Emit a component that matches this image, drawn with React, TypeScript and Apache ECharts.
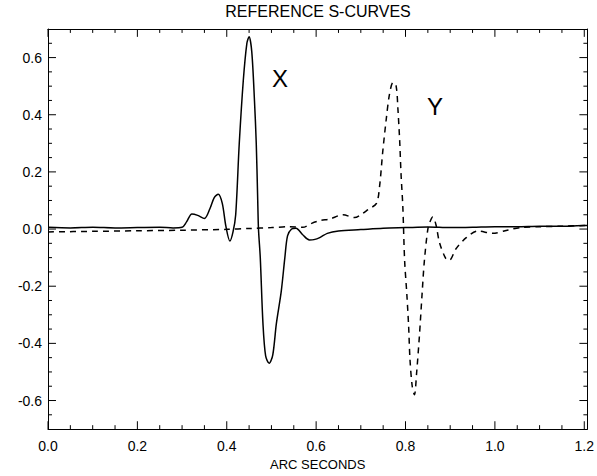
import React, { useEffect, useRef } from "react";
import * as echarts from "echarts";

// Solid curve (X)
const solidArc = [0.0, 0.05, 0.1, 0.15, 0.2, 0.25, 0.28, 0.3, 0.31, 0.322, 0.335, 0.35, 0.362, 0.372, 0.381, 0.39, 0.398, 0.407, 0.414, 0.42, 0.428, 0.437, 0.445, 0.45, 0.456, 0.462, 0.466, 0.469, 0.471, 0.475, 0.481, 0.487, 0.495, 0.503, 0.511, 0.522, 0.53, 0.536, 0.545, 0.555, 0.57, 0.585, 0.595, 0.608, 0.625, 0.65, 0.7, 0.75, 0.8, 0.85, 0.9, 0.95, 1.0, 1.05, 1.1, 1.15, 1.2, 1.207];
const solidVal = [0.006, 0.004, 0.006, 0.004, 0.005, 0.006, 0.004, 0.006, 0.025, 0.053, 0.048, 0.037, 0.07, 0.11, 0.122, 0.09, 0.01, -0.042, -0.01, 0.05, 0.3, 0.52, 0.65, 0.673, 0.62, 0.45, 0.3, 0.12, 0.0, -0.1, -0.33, -0.444, -0.47, -0.44, -0.331, -0.217, -0.1, -0.024, 0.0, 0.003, -0.02, -0.038, -0.037, -0.03, -0.015, -0.007, -0.002, 0.003, 0.005, 0.007, 0.005, 0.006, 0.008, 0.008, 0.01, 0.01, 0.012, 0.012];

// Dashed curve (Y)
const dashedArc = [0.0, 0.1, 0.2, 0.3, 0.4, 0.45, 0.5, 0.54, 0.57, 0.59, 0.61, 0.63, 0.66, 0.686, 0.7, 0.716, 0.735, 0.742, 0.749, 0.757, 0.764, 0.772, 0.779, 0.783, 0.787, 0.79, 0.794, 0.798, 0.803, 0.807, 0.81, 0.815, 0.82, 0.825, 0.831, 0.837, 0.842, 0.85, 0.856, 0.861, 0.868, 0.876, 0.89, 0.898, 0.913, 0.936, 0.962, 0.995, 1.03, 1.06, 1.1, 1.15, 1.2, 1.207];
const dashedVal = [-0.01, -0.008, -0.006, -0.004, -0.001, 0.002, 0.005, 0.008, 0.006, 0.02, 0.03, 0.035, 0.05, 0.04, 0.05, 0.068, 0.09, 0.15, 0.27, 0.386, 0.47, 0.513, 0.5, 0.42, 0.307, 0.192, 0.078, -0.11, -0.229, -0.341, -0.456, -0.55, -0.58, -0.5, -0.376, -0.229, -0.115, 0.0, 0.03, 0.042, 0.016, -0.047, -0.103, -0.109, -0.069, -0.03, -0.007, -0.015, -0.003, 0.006, 0.008, 0.01, 0.012, 0.012];

// Tick positions
const xMajorTicks = [0.0, 0.2, 0.4, 0.6, 0.8, 1.0, 1.2];
const xMinorTicks = [0.05, 0.1, 0.15, 0.25, 0.3, 0.35, 0.45, 0.5, 0.55, 0.65, 0.7, 0.75, 0.85, 0.9, 0.95, 1.05, 1.1, 1.15];
const yMajorTicks = [-0.6, -0.4, -0.2, 0.0, 0.2, 0.4, 0.6];
const yMinorTicks = [-0.65, -0.55, -0.5, -0.45, -0.35, -0.3, -0.25, -0.15, -0.1, -0.05, 0.05, 0.1, 0.15, 0.25, 0.3, 0.35, 0.45, 0.5, 0.55, 0.65];

const titleText = "REFERENCE S-CURVES";
const xAxisName = "ARC SECONDS";
const curveLabels = ["X", "Y"];

const X_MIN = 0;
const X_MAX = 1.207;
const Y_MIN = -0.7;
const Y_MAX = 0.7;

const W = 597;
const H = 476;
const GRID = { left: 48, right: 9, top: 29, bottom: 40 };

const FONT = "'Liberation Sans', Arial, sans-serif";

function zip(a: number[], b: number[]) {
  return a.map((v, i) => [v, b[i]]);
}

export default function App() {
  const ref = useRef<HTMLDivElement>(null);
  useEffect(() => {
    if (!ref.current) return;
    const chart = echarts.init(ref.current, null, { renderer: "svg" });
    const isMult = (v: number, step: number) =>
      Math.abs(v / step - Math.round(v / step)) < 1e-6;
    const fmt = (v: number) => (isMult(v, 0.2) ? (Math.abs(v) < 1e-9 ? "0.0" : v.toFixed(1)) : "");
    const mk = () => ({ color: "#000", width: 1 });

    // data units per pixel, so tick lengths are given in pixels
    const xPerPx = (X_MAX - X_MIN) / (W - GRID.left - GRID.right);
    const yPerPx = (Y_MAX - Y_MIN) / (H - GRID.top - GRID.bottom);

    // tick marks as broken line segments, drawn through the axes' scales
    const tickData = (xVals: number[], yVals: number[], len: number) => {
      const out: any[] = [];
      const dy = len * yPerPx;
      const dx = len * xPerPx;
      xVals.forEach((v) => {
        out.push([v, Y_MIN], [v, Y_MIN + dy], [v, "-"]);
        out.push([v, Y_MAX], [v, Y_MAX - dy], [v, "-"]);
      });
      yVals.forEach((v) => {
        out.push([X_MIN, v], [X_MIN + dx, v], ["-", v]);
        out.push([X_MAX, v], [X_MAX - dx, v], ["-", v]);
      });
      return out;
    };
    const tickSeries = (data: any[]) => ({
      type: "line",
      xAxisIndex: 0,
      yAxisIndex: 0,
      data,
      showSymbol: false,
      symbol: "none",
      connectNulls: false,
      clip: false,
      silent: true,
      z: 5,
      emphasis: { disabled: true },
      lineStyle: { color: "#000", width: 1 },
    });

    const axisX = (pos: string, labels: boolean) => ({
      type: "value",
      min: X_MIN,
      max: X_MAX,
      interval: 0.2,
      position: pos,
      splitLine: { show: false },
      axisLine: { show: true, onZero: false, lineStyle: mk() },
      axisTick: { show: false },
      axisLabel: labels
        ? { show: true, formatter: fmt, color: "#000", fontFamily: FONT, fontSize: 14, margin: 10 }
        : { show: false },
    });
    const axisY = (pos: string, labels: boolean) => ({
      type: "value",
      min: Y_MIN,
      max: Y_MAX,
      splitNumber: 7,
      position: pos,
      splitLine: { show: false },
      axisLine: { show: true, onZero: false, lineStyle: mk() },
      axisTick: { show: false },
      axisLabel: labels
        ? { show: true, formatter: fmt, color: "#000", fontFamily: FONT, fontSize: 14, margin: 6 }
        : { show: false },
    });
    chart.setOption({
      animation: false,
      backgroundColor: "#fff",
      title: {
        text: titleText,
        left: 318,
        textAlign: "center",
        top: 3,
        padding: 0,
        textStyle: { fontFamily: FONT, fontSize: 16, fontWeight: "normal", color: "#000" },
      },
      grid: GRID,
      xAxis: [
        {
          ...axisX("bottom", true),
          name: xAxisName,
          nameLocation: "middle",
          nameGap: 25,
          nameTextStyle: { fontFamily: FONT, fontSize: 13, color: "#000" },
        },
        axisX("top", false),
      ],
      yAxis: [axisY("left", true), axisY("right", false)],
      graphic: [
        { type: "text", left: 272, top: 66, style: { text: curveLabels[0], font: `24px ${FONT}`, fill: "#000" } },
        { type: "text", left: 427, top: 94, style: { text: curveLabels[1], font: `24px ${FONT}`, fill: "#000" } },
      ],
      series: [
        tickSeries(tickData(xMajorTicks, yMajorTicks, 8)),
        tickSeries(tickData(xMinorTicks, yMinorTicks, 4)),
        {
          type: "line",
          xAxisIndex: 0,
          yAxisIndex: 0,
          data: zip(solidArc, solidVal),
          showSymbol: false,
          smooth: 0.3,
          lineStyle: { color: "#000", width: 1.5 },
        },
        {
          type: "line",
          xAxisIndex: 0,
          yAxisIndex: 0,
          data: zip(dashedArc, dashedVal),
          showSymbol: false,
          smooth: 0.3,
          lineStyle: { color: "#000", width: 1.5, type: [6, 5] },
        },
      ],
    });
    return () => chart.dispose();
  }, []);
  return (
    <div
      ref={ref}
      style={{ position: "fixed", left: 0, top: 0, width: W, height: H, background: "#fff" }}
    />
  );
}
